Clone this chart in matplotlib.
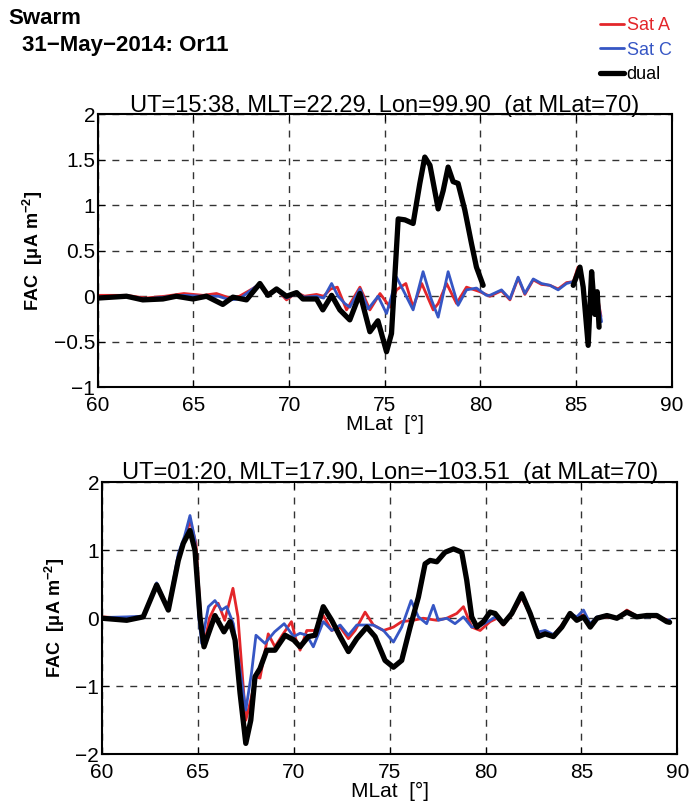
import numpy as np
import matplotlib
matplotlib.use('Agg')
import matplotlib.pyplot as plt

plt.rcParams['font.family'] = ['Liberation Sans', 'DejaVu Sans']
plt.rcParams['mathtext.fontset'] = 'custom'
plt.rcParams['mathtext.rm'] = 'Liberation Sans'
plt.rcParams['mathtext.bf'] = 'Liberation Sans:bold'
plt.rcParams['lines.solid_joinstyle'] = 'round'
plt.rcParams['lines.solid_capstyle'] = 'round'

nan = np.nan

# ---- top orbit ----
top_a_x = [60, 61.5, 62.5, 63.5, 64.5, 65.5, 66.2, 66.9, 67.4, 67.9, 68.47, 68.9, 69.34, 69.86, 70.39, 70.8,
           71.43, 71.8, 72.17, 72.52, 73.0, 73.7, 74.22, 74.75, 75.27, 75.61, 76.1, 76.48, 76.93, 77.53,
           77.79, 78.23, 78.75, 79.27, 79.97, 80.49, 81.1, 81.54, 81.97, 82.32, 82.76, 83.19, 83.63, 84.06,
           84.5, 84.85, 85.1, 85.37, 85.63, 85.81, 85.98, 86.1, 86.3]
top_a_y = [0.01, 0.01, -0.02, 0.0, 0.03, 0.01, 0.03, -0.02, 0.0, 0.06, 0.13, 0.03, 0.08, -0.04, 0.04, 0.0,
           0.02, 0.0, 0.08, 0.1, -0.15, 0.1, -0.15, 0.03, -0.12, 0.07, 0.14, -0.12, 0.14, -0.15,
           -0.08, 0.14, -0.08, 0.1, 0.05, 0.0, 0.06, -0.04, 0.2, 0.02, 0.18, 0.13, 0.12, 0.08,
           0.15, 0.16, 0.32, 0.08, -0.42, 0.2, -0.18, 0.02, -0.22]

top_c_x = [60, 61.5, 62.5, 63.5, 64.5, 65.5, 66.3, 66.9, 67.4, 67.9, 68.47, 68.9, 69.34, 69.86, 70.39, 70.8,
           71.43, 71.8, 72.22, 72.56, 72.91, 73.17, 73.7, 74.13, 74.65, 75.09, 75.35, 75.61, 76.05, 76.48,
           77.0, 77.44, 77.79, 78.31, 78.83, 79.27, 79.79, 80.31, 80.49, 81.1, 81.54, 81.97, 82.32, 82.76,
           83.19, 83.63, 84.06, 84.5, 84.85, 85.2, 85.37, 85.63, 85.81, 85.98, 86.1, 86.33]
top_c_y = [-0.01, 0.0, -0.03, -0.01, 0.01, 0.0, 0.0, -0.04, -0.03, 0.05, 0.14, 0.02, 0.07, -0.02, 0.03, -0.01,
           0.0, -0.02, 0.14, 0.0, -0.08, -0.12, 0.08, -0.14, 0.0, -0.19, 0.0, 0.21, 0.03, -0.15,
           0.27, -0.04, -0.23, 0.27, -0.1, 0.07, 0.09, 0.01, 0.01, 0.07, -0.03, 0.21, 0.03, 0.19,
           0.14, 0.12, 0.07, 0.14, 0.16, 0.29, 0.05, -0.45, 0.22, -0.15, 0.0, -0.28]

top_d_x = [60.0, 61.5, 62.35, 63.4, 64.1, 64.97, 65.68, 66.53, 67.06, 67.77, 68.47, 68.89, 69.34, 69.86,
           70.39, 70.72, 71.43, 71.76, 72.22, 72.65, 73.17, 73.7, 74.22, 74.64, 75.09, 75.35, 75.7, 76.05,
           76.48, 76.83, 77.09, 77.36, 77.79, 78.05, 78.31, 78.57, 78.83, 79.18, 79.53, 79.79, 80.14, nan,
           84.85, 85.2, 85.37, 85.63, 85.81, 85.98, 86.1, 86.2]
top_d_y = [-0.02, 0.0, -0.04, -0.03, 0.0, -0.03, 0.0, -0.09, -0.01, -0.04, 0.14, 0.01, 0.08, 0.0,
           0.04, -0.03, -0.03, -0.15, 0.01, -0.15, -0.26, 0.03, -0.39, -0.27, -0.61, -0.41, 0.85, 0.84,
           0.8, 1.24, 1.53, 1.44, 0.96, 1.16, 1.42, 1.26, 1.24, 0.95, 0.58, 0.32, 0.12, nan,
           0.12, 0.32, 0.1, -0.54, 0.27, -0.2, 0.05, -0.34]

# ---- bottom orbit ----
bot_a_x = [60, 61.3, 62.15, 62.85, 63.46, 63.98, 64.3, 64.6, 64.9, 65.15, 65.35, 65.6, 65.89, 66.06, 66.4,
           66.83, 67.09, 67.5, 67.76, 68.03, 68.24, 68.67, 69.02, 69.4, 69.88, 70.1, 70.33, 70.68, 71.11,
           71.54, 71.98, 72.42, 72.85, 73.2, 73.72, 74.15, 74.68, 75.2, 75.63, 76.23, 76.75, 77.46, 77.98,
           78.5, 78.85, 79.28, 79.72, 80.24, 80.6, 80.93, 81.37, 81.89, 82.33, 82.76, 83.11, 83.54, 83.98,
           84.41, 84.76, 85.11, 85.46, 85.81, 86.33, 86.85, 87.37, 87.89, 88.41, 88.93, 89.45, 89.6]
bot_a_y = [0.02, 0.0, 0.03, 0.5, 0.12, 0.9, 1.15, 1.44, 1.1, 0.0, -0.38, 0.0, 0.17, 0.22, -0.03,
           0.44, 0.02, -1.5, -1.2, -0.86, -0.88, -0.23, -0.42, -0.25, -0.05, -0.3, -0.47, -0.18, -0.18,
           0.04, -0.18, -0.13, -0.3, -0.18, 0.09, -0.1, -0.18, -0.13, -0.05, -0.03, 0.0, -0.03, 0.0,
           0.07, 0.17, -0.13, -0.18, -0.05, 0.0, -0.1, 0.05, 0.3, 0.05, -0.22, -0.2, -0.25, -0.1,
           0.07, 0.0, 0.05, -0.1, 0.0, 0.02, 0.0, 0.12, 0.03, 0.03, 0.02, -0.02, -0.04]

bot_c_x = [60, 61.3, 62.15, 62.85, 63.46, 63.98, 64.3, 64.59, 64.85, 65.05, 65.2, 65.55, 65.89, 66.24, 66.5,
           66.85, 67.5, 67.8, 68.03, 68.5, 69.0, 69.5, 70.0, 70.33, 70.68, 71.02, 71.54, 71.98, 72.42,
           72.85, 73.29, 73.72, 74.15, 74.68, 75.2, 75.63, 76.12, 76.5, 76.93, 77.28, 77.54, 77.98, 78.41,
           78.85, 79.28, 79.8, 80.24, 80.5, 80.93, 81.37, 81.89, 82.33, 82.76, 83.11, 83.54, 83.98, 84.41,
           84.76, 85.11, 85.46, 85.81, 86.33, 86.85, 87.37, 87.89, 88.41, 88.93, 89.45, 89.6]
bot_c_y = [0.01, 0.02, 0.03, 0.52, 0.14, 0.95, 1.2, 1.51, 1.15, 0.0, -0.37, 0.17, 0.26, 0.12, 0.17,
           -0.08, -1.35, -0.8, -0.25, -0.37, -0.2, -0.08, -0.27, -0.22, -0.25, -0.42, -0.05, -0.18, -0.1,
           -0.25, -0.1, -0.1, -0.1, -0.18, -0.35, -0.13, 0.26, 0.02, -0.08, 0.19, -0.03, 0.0, -0.08,
           0.02, -0.13, -0.1, -0.03, 0.02, -0.08, 0.06, 0.32, 0.06, -0.2, -0.18, -0.24, -0.12, 0.07,
           0.02, 0.12, -0.08, 0.02, 0.04, 0.0, 0.1, 0.03, 0.02, 0.03, -0.03, -0.02]

bot_d_x = [60.0, 61.29, 62.15, 62.85, 63.46, 63.98, 64.24, 64.59, 64.85, 65.11, 65.32, 65.55, 65.89, 66.36,
           66.68, 66.94, 67.2, 67.5, 67.76, 67.98, 68.24, 68.59, 69.02, 69.55, 70.0, 70.33, 70.76, 71.11,
           71.54, 71.98, 72.42, 72.85, 73.29, 73.81, 74.24, 74.76, 75.2, 75.63, 76.07, 76.5, 76.85, 77.11,
           77.46, 77.89, 78.33, 78.76, 79.02, 79.28, 79.55, 79.89, 80.24, 80.5, 80.93, 81.37, 81.89, 82.33,
           82.76, 83.11, 83.54, 83.98, 84.41, 84.76, 85.11, 85.46, 85.81, 86.33, 86.85, 87.37, 87.89,
           88.41, 88.93, 89.45, 89.6]
bot_d_y = [0.0, -0.03, 0.02, 0.49, 0.12, 0.85, 1.1, 1.29, 1.0, 0.02, -0.42, -0.23, 0.04, -0.2,
           -0.05, -0.32, -1.1, -1.84, -1.5, -0.86, -0.74, -0.47, -0.47, -0.25, -0.32, -0.42, -0.27, -0.25,
           0.17, -0.03, -0.27, -0.49, -0.3, -0.13, -0.27, -0.62, -0.72, -0.62, -0.13, 0.31, 0.8, 0.85,
           0.83, 0.97, 1.02, 0.97, 0.56, 0.02, -0.13, -0.05, 0.09, 0.07, -0.08, 0.07, 0.36, 0.07,
           -0.27, -0.23, -0.27, -0.13, 0.07, -0.03, 0.02, -0.13, 0.0, 0.04, 0.0, 0.09, 0.02,
           0.04, 0.04, -0.05, -0.06]

red = '#e3262a'
blue = '#3656c4'

fig = plt.figure(figsize=(6.89, 8.05), dpi=100)
ax1 = fig.add_axes([0.142, 0.519, 0.833, 0.339])
ax2 = fig.add_axes([0.148, 0.063, 0.835, 0.338])


def style(ax, ylim, yticks, ylabels, title):
    ax.set_xlim(60, 90)
    ax.set_ylim(*ylim)
    ax.set_xticks([60, 65, 70, 75, 80, 85, 90])
    ax.set_yticks(yticks)
    ax.set_yticklabels(ylabels)
    ax.grid(True, color='#333333', linestyle=(0, (5, 5)), linewidth=1)
    ax.tick_params(axis='both', direction='in', length=5, labelsize=15, top=True, right=True)
    ax.tick_params(axis='x', pad=6)
    ax.tick_params(axis='y', pad=2)
    for s in ax.spines.values():
        s.set_linewidth(1.5)
    ax.set_title(title, fontsize=17, pad=2)
    ax.set_xlabel('MLat  [°]', fontsize=15, labelpad=0)
    ax.set_ylabel('FAC  [μA m$^{\\mathbf{-2}}$]', fontsize=13, fontweight='bold', labelpad=6)


lA, = ax1.plot(top_a_x, top_a_y, color=red, lw=2.0, label='Sat A')
lC, = ax1.plot(top_c_x, top_c_y, color=blue, lw=2.0, label='Sat C')
lD, = ax1.plot(top_d_x, top_d_y, color='black', lw=3.8, label='dual')
style(ax1, (-1, 2), [-1, -0.5, 0, 0.5, 1, 1.5, 2], ['−1', '−0.5', '0', '0.5', '1', '1.5', '2'],
      'UT=15:38, MLT=22.29, Lon=99.90  (at MLat=70)')

ax2.plot(bot_a_x, bot_a_y, color=red, lw=2.0)
ax2.plot(bot_c_x, bot_c_y, color=blue, lw=2.0)
ax2.plot(bot_d_x, bot_d_y, color='black', lw=3.8)
style(ax2, (-2, 2), [-2, -1, 0, 1, 2], ['−2', '−1', '0', '1', '2'],
      'UT=01:20, MLT=17.90, Lon=−103.51  (at MLat=70)')

fig.text(0.012, 0.977, 'Swarm', fontsize=16, fontweight='bold', va='center')
fig.text(0.032, 0.944, '31−May−2014: Or11', fontsize=16, fontweight='bold', va='center')

fig.legend(handles=[lA, lC, lD], loc='upper left', bbox_to_anchor=(0.853, 0.994), frameon=False,
           fontsize=13, handlelength=1.3, handletextpad=0.15, labelspacing=0.4, labelcolor='linecolor',
           borderpad=0.2)

fig.savefig('out.png', dpi=100)
